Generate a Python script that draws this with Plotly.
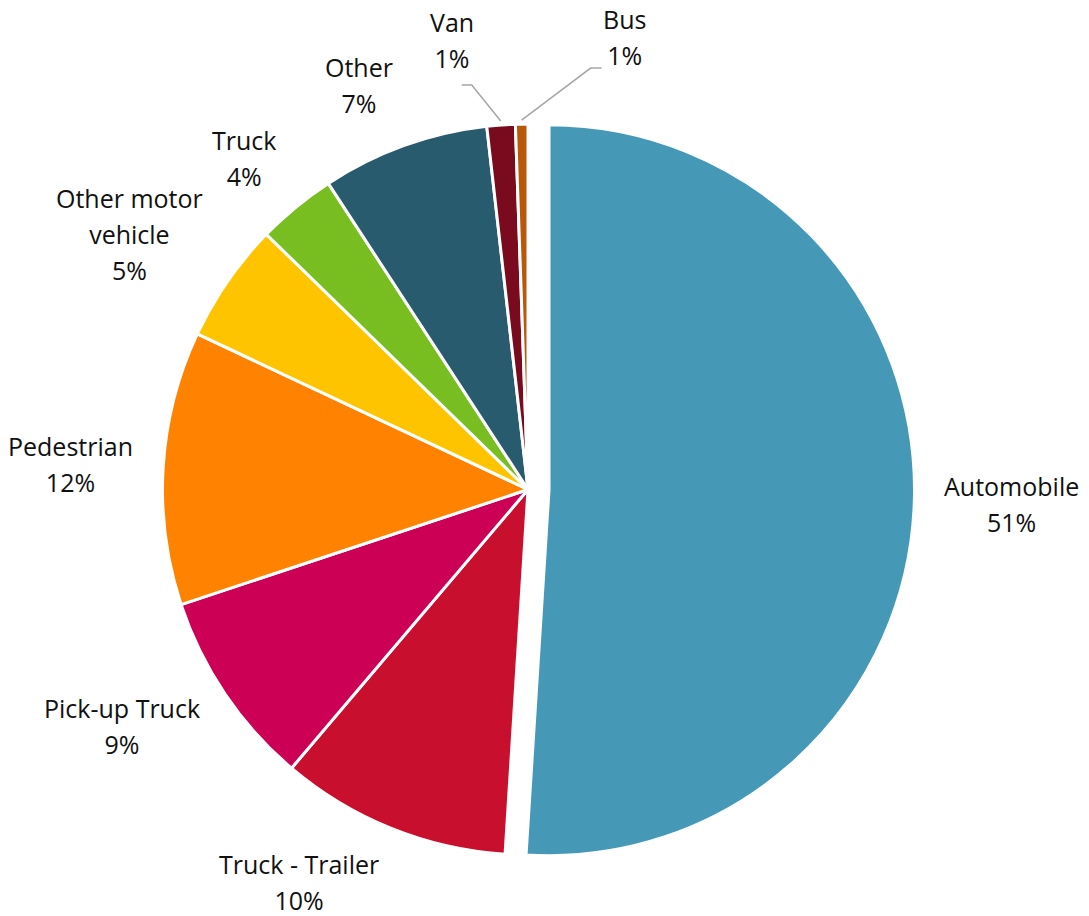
import math
import plotly.graph_objects as go

# ---- data -------------------------------------------------------------
categories = ["Automobile", "Truck - Trailer", "Pick-up Truck", "Pedestrian",
              "Other motor vehicle", "Truck", "Other", "Van", "Bus"]
shares = [51.0, 10.2, 8.7, 12.1, 5.3, 3.5, 7.4, 1.25, 0.55]
label_lines = [["Automobile"], ["Truck - Trailer"], ["Pick-up Truck"], ["Pedestrian"],
               ["Other motor", "vehicle"], ["Truck"], ["Other"], ["Van"], ["Bus"]]
colors = ["#4599B7", "#C8102E", "#CC0055", "#FF8300", "#FFC400",
          "#78BE20", "#285B6E", "#7A0A1E", "#B9580B"]
pulls = [0.0575, 0, 0, 0, 0, 0, 0, 0, 0]

# ---- geometry (pixels) ------------------------------------------------
W, H = 1089, 916
CX, CY, R = 528, 489.5, 365.5
LABEL_GAP = 28
LOWER_GAP = 22           # labels under the pie sit a little closer vertically
GLYPH_SIZE = 25          # size of the drawn characters
LINE_PITCH = 36          # distance between label lines
FONT = dict(family="Open Sans, Noto Sans, sans-serif",
            size=LINE_PITCH / 1.3, color="#111111")

half = R * (1 + max(pulls))
dom_x = [(CX - half) / W, (CX + half) / W]
dom_y = [1 - (CY + half) / H, 1 - (CY - half) / H]


def px(x, y):
    return x / W, 1 - y / H


def label_html(lines):
    return "<br>".join(f"<span style='font-size:{GLYPH_SIZE}px'>{ln}</span>" for ln in lines)


# small slices get an elbow leader line: (elbow dx, elbow dy, tail dx, text dx, text dy)
leaders = {"Van": (-29, -36, -10, -10, -8), "Bus": (69, -52, 11, 23, 6)}

total = sum(shares)
annotations, shapes = [], []
start = 0.0
for name, val, lines, pull in zip(categories, shares, label_lines, pulls):
    pct = int(math.floor(val / total * 100 + 0.5))
    mid = math.radians((start + val / 2) / total * 360)
    start += val
    s, c = math.sin(mid), math.cos(mid)
    ox, oy = CX + pull * R * s, CY - pull * R * c
    all_lines = lines + [f"{pct}%"]
    text = label_html(all_lines)
    if name in leaders:
        ex, ey, tail, tdx, tdy = leaders[name]
        x0, y0 = ox + (R + 4) * s, oy - (R + 4) * c
        x1, y1 = x0 + ex, y0 + ey
        x2, y2 = x1 + tail, y1
        p0, p1, p2 = px(x0, y0), px(x1, y1), px(x2, y2)
        shapes.append(dict(type="path", xref="paper", yref="paper",
                           path=f"M {p0[0]},{p0[1]} L {p1[0]},{p1[1]} L {p2[0]},{p2[1]}",
                           line=dict(color="#A6A6A6", width=1.5)))
        tx, ty = px(x2 + tdx, y2 + tdy)
        annotations.append(dict(text=text, x=tx, y=ty, xref="paper", yref="paper",
                                xanchor="center", yanchor="bottom", showarrow=False,
                                align="center", font=FONT))
        continue
    # label sits just outside the rim, shifted vertically by half its height
    gap_y = LOWER_GAP if c < -0.3 else LABEL_GAP
    ax = ox + (R + LABEL_GAP) * s
    ay = oy - (R + gap_y) * c
    xa = "left" if s > 0.25 else ("right" if s < -0.25 else "center")
    ay -= c * len(all_lines) * LINE_PITCH / 2
    tx, ty = px(ax, ay)
    annotations.append(dict(text=text, x=tx, y=ty, xref="paper", yref="paper",
                            xanchor=xa, yanchor="middle", showarrow=False,
                            align="center", font=FONT))

fig = go.Figure(go.Pie(
    labels=categories, values=shares, sort=False, direction="clockwise",
    rotation=0, pull=pulls, textinfo="none", hoverinfo="label+percent",
    marker=dict(colors=colors, line=dict(color="white", width=3)),
    domain=dict(x=dom_x, y=dom_y), showlegend=False,
))
fig.update_layout(
    width=W, height=H, margin=dict(l=0, r=0, t=0, b=0),
    paper_bgcolor="white", plot_bgcolor="white",
    annotations=annotations, shapes=shapes,
)
fig.write_html("out.html")
